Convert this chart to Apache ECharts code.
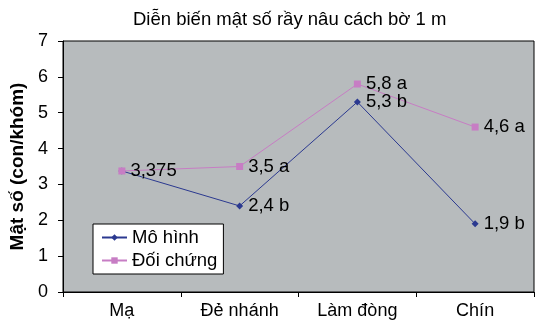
<!DOCTYPE html>
<html><head><meta charset="utf-8">
<script src="https://cdn.jsdelivr.net/npm/echarts@6/dist/echarts.min.js"></script>
<style>html,body{margin:0;padding:0;background:#fff}#c{width:535px;height:326px}</style>
</head><body><div id="c"></div>
<script>
const categories = ['Mạ', 'Đẻ nhánh', 'Làm đòng', 'Chín'];
const moHinh = [3.375, 2.4, 5.3, 1.9];
const doiChung = [3.375, 3.5, 5.8, 4.6];
const moHinhLabels = ['', '2,4 b', '5,3 b', '1,9 b'];
const doiChungLabels = ['3,375', '3,5 a', '5,8 a', '4,6 a'];
const yTicks = [0, 1, 2, 3, 4, 5, 6, 7];

const font = 'Liberation Sans, Arial, sans-serif';
const chart = echarts.init(document.getElementById('c'));
function mk(vals, labels){
  return vals.map((v,i)=>({value:v, label:{show: labels[i]!=='', formatter: labels[i]}}));
}
chart.setOption({
  animation:false,
  title:{text:'Diễn biến mật số rầy nâu cách bờ 1 m', left:133, top:10, padding:0,
    textStyle:{fontFamily:font, fontSize:18.5, fontWeight:'normal', color:'#000'}},
  grid:{left:63, right:1, top:41, bottom:34, show:true, backgroundColor:'#b7bbbd', borderColor:'#000', borderWidth:1},
  legend:{orient:'vertical', left:93, top:224, backgroundColor:'#fff', borderColor:'#000', borderWidth:1,
    padding:[4,6,4,8], itemGap:4, itemWidth:25, itemHeight:8,
    textStyle:{fontFamily:font, fontSize:18.5, color:'#000'},
    data:['Mô hình','Đối chứng']},
  xAxis:{type:'category', data:categories, boundaryGap:true,
    axisLine:{lineStyle:{color:'#000', width:1}},
    axisTick:{show:true, length:5, lineStyle:{color:'#000'}},
    axisLabel:{fontFamily:font, fontSize:18, color:'#000', margin:10}},
  yAxis:{type:'value', min:0, max:7, interval:1,
    name:'Mật số (con/khóm)', nameLocation:'middle', nameGap:29,
    nameTextStyle:{fontFamily:font, fontSize:19, fontWeight:'bold', color:'#000'},
    axisLine:{show:true, lineStyle:{color:'#000'}},
    axisTick:{show:true, length:5, lineStyle:{color:'#000'}},
    splitLine:{show:false},
    axisLabel:{fontFamily:font, fontSize:18, color:'#000', margin:15,
      formatter: v => yTicks.includes(v) ? String(v) : ''}},
  series:[
    {name:'Mô hình', type:'line', data:mk(moHinh, moHinhLabels), symbol:'diamond', symbolSize:7,
      itemStyle:{color:'#2b3990'}, lineStyle:{color:'#2b3990', width:1},
      label:{position:'right', distance:5, fontFamily:font, fontSize:18.5, color:'#000'}},
    {name:'Đối chứng', type:'line', data:mk(doiChung, doiChungLabels), symbol:'rect', symbolSize:7,
      itemStyle:{color:'#c77dc4'}, lineStyle:{color:'#c77dc4', width:1},
      label:{position:'right', distance:5, fontFamily:font, fontSize:18.5, color:'#000'}}
  ]
});
</script></body></html>
